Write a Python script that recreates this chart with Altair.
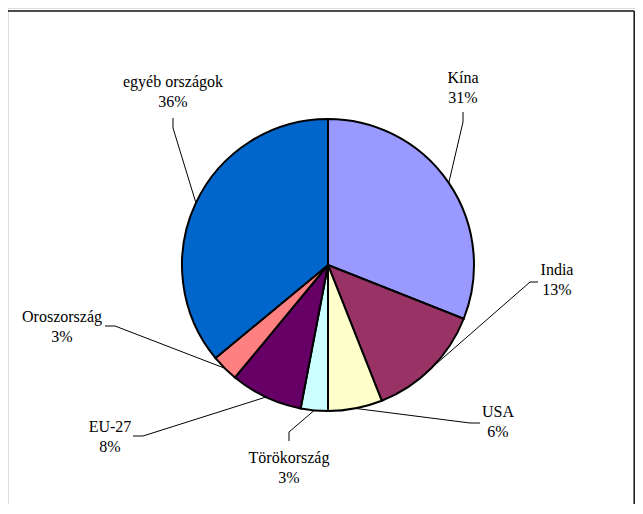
import math
import altair as alt
import pandas as pd

# ---- data ----
categories = ["Kína", "India", "USA", "Törökország", "EU-27", "Oroszország", "egyéb országok"]
shares = [31, 13, 6, 3, 8, 3, 36]
colors = ["#9999FF", "#993366", "#FFFFCC", "#CCFFFF", "#660066", "#FF8080", "#0066CC"]

# ---- layout (image pixel coordinates) ----
W, H = 627, 496
CX, CY, R = 328, 265, 146
label_x = [463, 557, 498, 289, 110, 62, 173]
label_y = [78, 270, 412, 458, 427, 317, 82]
lead_start = [(463, 112), (538, 282), (480, 423), (289, 441), (133, 436), (105, 326), (173, 118)]
lead_elbow = [(463, 122), (530, 282), (470, 423), (289, 432), (143, 436), (115, 326), (173, 128)]

pie_df = pd.DataFrame({"cat": categories, "val": shares, "ord": list(range(len(categories)))})
pie_df["pct"] = [f"{v}%" for v in shares]
pie_df["lx"] = label_x
pie_df["ly"] = label_y

# leader lines: label side -> elbow -> pie edge at the slice mid-angle
rows = []
total = sum(shares)
cum = 0
for i, (c, v) in enumerate(zip(categories, shares)):
    mid = (cum + v / 2) / total * 2 * math.pi
    cum += v
    ex = CX + R * math.sin(mid)
    ey = CY - R * math.cos(mid)
    pts = [lead_start[i], lead_elbow[i], (ex, ey)]
    for k, (px, py) in enumerate(pts):
        rows.append({"cat": c, "k": k, "x": px, "y": py})
lead_df = pd.DataFrame(rows)

# frame: left, top, right edges (bottom lies below the picture)
frame_df = pd.DataFrame({
    "x": [7, 7, 634.2],
    "x2": [7, 634.2, 634.2],
    "y": [11, 11, 11],
    "y2": [8 + H, 11, 8 + H],
})

xs = alt.Scale(domain=[8, 8 + W], range=[0, W], nice=False, zero=False)
ys = alt.Scale(domain=[8, 8 + H], range=[0, H], nice=False, zero=False)

frame = alt.Chart(frame_df).mark_rule(color="#111111", strokeWidth=1.5).encode(
    x=alt.X("x:Q", scale=xs, axis=None),
    x2="x2:Q",
    y=alt.Y("y:Q", scale=ys, axis=None),
    y2="y2:Q",
)

pie = alt.Chart(pie_df).mark_arc(outerRadius=R, stroke="black", strokeWidth=2).encode(
    theta=alt.Theta("val:Q", stack=True),
    order=alt.Order("ord:Q", sort="ascending"),
    color=alt.Color("cat:N", scale=alt.Scale(domain=categories, range=colors), legend=None),
    x=alt.value(CX - 8),
    y=alt.value(CY - 8),
)

leaders = alt.Chart(lead_df).mark_line(color="black", strokeWidth=1).encode(
    x=alt.X("x:Q", scale=xs, axis=None),
    y=alt.Y("y:Q", scale=ys, axis=None),
    detail="cat:N",
    order="k:Q",
)

font = dict(font="Liberation Serif", fontSize=16, color="black",
            align="center", baseline="middle")
names = alt.Chart(pie_df).mark_text(**font).encode(
    x=alt.X("lx:Q", scale=xs, axis=None),
    y=alt.Y("ly:Q", scale=ys, axis=None),
    text="cat:N",
)
pcts = alt.Chart(pie_df).mark_text(dy=20, **font).encode(
    x=alt.X("lx:Q", scale=xs, axis=None),
    y=alt.Y("ly:Q", scale=ys, axis=None),
    text="pct:N",
)

chart = alt.layer(frame, pie, leaders, names, pcts).properties(
    width=W, height=H, padding=0, autosize=alt.AutoSizeParams(type="none")
).configure_view(stroke=None).configure(background="white")

chart.save("out.html", embed_options={"renderer": "svg", "actions": False})
